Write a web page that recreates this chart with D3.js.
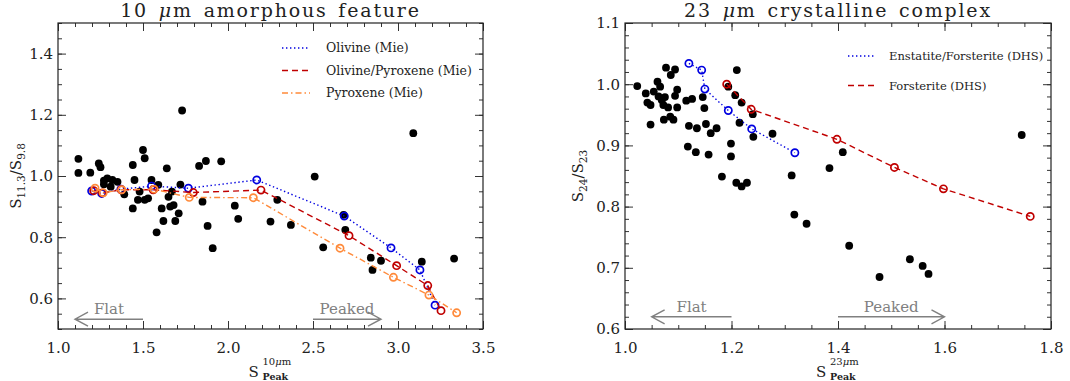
<!DOCTYPE html>
<html>
<head>
  <meta charset="utf-8">
  <title>Silicate feature shapes</title>
  <script src="https://cdn.jsdelivr.net/npm/d3@7"></script>
  <style>
    body { margin: 0; background: #fff; }
    text { font-family: "DejaVu Serif", serif; }
  </style>
</head>
<body>
<svg width="1070" height="381"></svg>
<script>
// ---- data: 10 um amorphous feature (x = S_peak, y = S11.3/S9.8)
const amorphPoints = [
  [1.12,1.056],[1.12,1.010],[1.19,1.011],[1.24,1.041],[1.25,1.029],[1.27,0.985],
  [1.29,0.992],[1.32,0.987],[1.35,0.981],[1.27,0.973],[1.31,0.965],[1.39,0.940],
  [1.44,1.036],[1.45,0.987],[1.44,0.894],[1.47,0.922],[1.48,0.949],[1.50,1.085],
  [1.51,1.058],[1.51,0.922],[1.53,0.927],[1.55,0.987],[1.59,0.971],[1.58,0.816],
  [1.61,0.894],[1.62,0.853],[1.64,1.025],[1.65,0.932],[1.66,0.900],[1.67,0.949],
  [1.68,0.905],[1.71,0.878],[1.69,0.853],[1.73,1.214],[1.72,0.972],[1.83,1.033],
  [1.85,0.916],[1.87,1.049],[1.88,0.837],[1.91,0.764],[1.96,1.048],[2.04,0.903],
  [2.06,0.860],[2.25,0.851],[2.29,0.922],[2.37,0.840],[2.51,0.998],[2.56,0.767],
  [2.68,0.873],[2.69,0.824],[2.84,0.733],[2.85,0.693],[2.90,0.723],[3.09,1.140],
  [3.14,0.720],[3.33,0.730]
];
const olivineMie = [[1.198,0.951],[1.257,0.943],[1.370,0.957],[1.550,0.967],[1.767,0.960],
  [2.169,0.987],[2.684,0.869],[2.959,0.765],[3.129,0.693],[3.218,0.578]];
const olivPyrMie = [[1.210,0.952],[1.262,0.945],[1.372,0.955],[1.560,0.955],[1.796,0.946],
  [2.194,0.954],[2.712,0.805],[2.992,0.707],[3.175,0.642],[3.253,0.560]];
const pyroxeneMie = [[1.218,0.960],[1.266,0.945],[1.375,0.955],[1.565,0.957],[1.772,0.930],
  [2.149,0.929],[2.659,0.764],[2.973,0.669],[3.182,0.611],[3.345,0.553]];

// ---- data: 23 um crystalline complex (x = S_peak, y = S24/S23)
const crystPoints = [
  [1.023,0.997],[1.039,0.985],[1.042,0.970],[1.048,0.966],[1.048,0.934],[1.054,0.988],
  [1.061,1.004],[1.063,0.980],[1.066,0.996],[1.069,0.974],[1.072,0.966],[1.073,0.942],
  [1.075,0.979],[1.077,1.027],[1.081,0.962],[1.085,0.947],[1.086,1.015],[1.091,0.942],
  [1.094,1.024],[1.094,0.981],[1.098,0.991],[1.098,0.962],[1.115,0.973],[1.118,0.898],
  [1.120,0.932],[1.126,0.976],[1.133,0.889],[1.135,0.928],[1.146,0.979],[1.149,0.961],
  [1.152,0.935],[1.157,0.885],[1.161,0.920],[1.172,0.928],[1.182,0.849],[1.194,0.996],
  [1.199,0.903],[1.199,0.882],[1.207,0.982],[1.209,0.839],[1.210,1.023],[1.215,0.937],
  [1.219,0.970],[1.219,0.833],[1.229,0.839],[1.240,0.951],[1.241,0.914],[1.277,0.919],
  [1.313,0.851],[1.318,0.787],[1.341,0.772],[1.384,0.863],[1.409,0.889],[1.421,0.736],
  [1.478,0.685],[1.535,0.714],[1.559,0.703],[1.570,0.690],[1.745,0.917]
];
const enstForstDHS = [[1.120,1.034],[1.144,1.023],[1.150,0.992],[1.194,0.957],[1.238,0.927],[1.319,0.888]];
const forstDHS = [[1.191,1.000],[1.237,0.959],[1.398,0.910],[1.506,0.864],[1.598,0.829],[1.761,0.784]];

// tick values
const amorphXTicks = [1.0, 1.5, 2.0, 2.5, 3.0, 3.5];
const amorphYTicks = [0.6, 0.8, 1.0, 1.2, 1.4];
const crystXTicks = [1.0, 1.2, 1.4, 1.6, 1.8];
const crystYTicks = [0.6, 0.7, 0.8, 0.9, 1.0, 1.1];

const svg = d3.select('svg');

function inward(g) { g.select('.domain').remove(); }

function panel(p) {
  const x = d3.scaleLinear().domain(p.xDom).range([p.left, p.right]);
  const y = d3.scaleLinear().domain(p.yDom).range([p.bottom, p.top]);
  const g = svg.append('g');
  const fmt = d3.format('.1f');
  const xMinor = d3.range(p.xDom[0], p.xDom[1] + 1e-9, p.xMinor);
  const yMinor = d3.range(p.yDom[0], p.yDom[1] + 1e-9, p.yMinor);

  // axes, all ticks pointing inward
  const axes = [
    [d3.axisBottom(x).tickValues(p.xTicks).tickSize(-8).tickPadding(13).tickFormat(fmt), `translate(0,${p.bottom})`],
    [d3.axisBottom(x).tickValues(xMinor).tickSize(-4).tickFormat(''), `translate(0,${p.bottom})`],
    [d3.axisTop(x).tickValues(p.xTicks).tickSize(-8).tickFormat(''), `translate(0,${p.top})`],
    [d3.axisTop(x).tickValues(xMinor).tickSize(-4).tickFormat(''), `translate(0,${p.top})`],
    [d3.axisLeft(y).tickValues(p.yTicks).tickSize(-8).tickPadding(5).tickFormat(fmt), `translate(${p.left},0)`],
    [d3.axisLeft(y).tickValues(yMinor).tickSize(-4).tickFormat(''), `translate(${p.left},0)`],
    [d3.axisRight(y).tickValues(p.yTicks).tickSize(-8).tickFormat(''), `translate(${p.right},0)`],
    [d3.axisRight(y).tickValues(yMinor).tickSize(-4).tickFormat(''), `translate(${p.right},0)`]
  ];
  axes.forEach(([ax, tr]) => {
    const a = g.append('g').attr('transform', tr).call(ax).call(inward);
    a.selectAll('line').attr('stroke', '#333');
    a.selectAll('text').attr('font-size', 15).attr('fill', '#222')
      .style('font-family', '"DejaVu Serif", serif');
  });
  g.append('rect')
    .attr('x', p.left).attr('y', p.top)
    .attr('width', p.right - p.left).attr('height', p.bottom - p.top)
    .attr('fill', 'none').attr('stroke', '#222').attr('stroke-width', 1.2);

  // title
  g.append('text').attr('x', (p.left + p.right) / 2).attr('y', 17)
    .attr('text-anchor', 'middle').attr('font-size', 19).attr('letter-spacing', 1.8)
    .attr('word-spacing', 3).attr('fill', '#222')
    .html(p.title);

  // flat / peaked arrows
  p.arrows.forEach(a => {
    const ya = y(a.y), x0 = x(a.from), x1 = x(a.to);
    const dir = x1 > x0 ? -1 : 1;
    g.append('path')
      .attr('d', `M${x0},${ya}L${x1},${ya}M${x1 + dir * 13},${ya - 7}L${x1},${ya}L${x1 + dir * 13},${ya + 7}`)
      .attr('fill', 'none').attr('stroke', '#808080').attr('stroke-width', 1.4);
    g.append('text').attr('x', (x0 + x1) / 2).attr('y', ya - 5)
      .attr('text-anchor', 'middle').attr('font-size', 15).attr('fill', '#808080')
      .text(a.label);
  });

  // observed sources
  g.append('g').selectAll('circle').data(p.points).join('circle')
    .attr('cx', d => x(d[0])).attr('cy', d => y(d[1])).attr('r', 3.9).attr('fill', '#000');

  // model tracks
  const line = d3.line().x(d => x(d[0])).y(d => y(d[1]));
  p.models.forEach(m => {
    g.append('path').datum(m.data).attr('d', line)
      .attr('fill', 'none').attr('stroke', m.color).attr('stroke-width', 1.4)
      .attr('stroke-dasharray', m.dash);
    g.append('g').selectAll('circle').data(m.data).join('circle')
      .attr('cx', d => x(d[0])).attr('cy', d => y(d[1])).attr('r', 3.6)
      .attr('fill', 'none').attr('stroke', m.color).attr('stroke-width', 1.7);
  });

  // legend
  p.models.forEach((m, i) => {
    const ly = p.legend.y + i * p.legend.dy;
    g.append('line').attr('x1', p.legend.x).attr('x2', p.legend.x + 28)
      .attr('y1', ly).attr('y2', ly)
      .attr('stroke', m.color).attr('stroke-width', 1.6).attr('stroke-dasharray', m.dash);
    g.append('text').attr('x', p.legend.x + p.legend.gap).attr('y', ly).attr('dy', '0.35em')
      .attr('font-size', p.legend.size).attr('fill', '#222').text(m.name);
  });

  // axis titles
  const xt = g.append('g');
  const xc = (p.left + p.right) / 2 - 22;
  xt.append('text').attr('x', xc).attr('y', 377).attr('font-size', 15).attr('fill', '#222').text('S');
  xt.append('text').attr('x', xc + 14).attr('y', 365).attr('font-size', 10).attr('fill', '#222').html(p.xSup);
  xt.append('text').attr('x', xc + 14).attr('y', 380).attr('font-size', 9.5).attr('font-weight', 'bold')
    .attr('fill', '#222').text('Peak');

  const yt = g.append('text')
    .attr('transform', `translate(${p.yLabelX},${(p.top + p.bottom) / 2}) rotate(-90)`)
    .attr('text-anchor', 'middle').attr('font-size', 15).attr('fill', '#222');
  p.yLabel.forEach(s => {
    yt.append('tspan').text(s[0]).attr('font-size', s[1] ? 10.5 : 15).attr('dy', s[1] ? 4 : -4 * (s[2] || 0));
  });
}

const dotted = '1.4 2.6', dashed = '6 4', dashDot = '6 3 1.5 3';

panel({
  left: 58, right: 483, top: 23, bottom: 329,
  xDom: [1.0, 3.5], yDom: [0.5, 1.5], xMinor: 0.1, yMinor: 0.05,
  xTicks: amorphXTicks, yTicks: amorphYTicks,
  title: '10 <tspan font-style="italic">μ</tspan>m amorphous feature',
  points: amorphPoints,
  models: [
    { name: 'Olivine (Mie)', data: olivineMie, color: '#0000e0', dash: dotted },
    { name: 'Olivine/Pyroxene (Mie)', data: olivPyrMie, color: '#c00000', dash: dashed },
    { name: 'Pyroxene (Mie)', data: pyroxeneMie, color: '#ff8a3a', dash: dashDot }
  ],
  legend: { x: 282, y: 48, dy: 22.5, gap: 44, size: 12.5 },
  arrows: [
    { label: 'Flat', from: 1.5, to: 1.1, y: 0.532 },
    { label: 'Peaked', from: 2.5, to: 2.9, y: 0.532 }
  ],
  xSup: '10<tspan font-style="italic">μ</tspan>m',
  yLabelX: 21,
  yLabel: [['S', 0], ['11.3', 1], ['/S', 0, 1], ['9.8', 1]]
});

panel({
  left: 625, right: 1051, top: 23, bottom: 329,
  xDom: [1.0, 1.8], yDom: [0.6, 1.1], xMinor: 0.05, yMinor: 0.02,
  xTicks: crystXTicks, yTicks: crystYTicks,
  title: '23 <tspan font-style="italic">μ</tspan>m crystalline complex',
  points: crystPoints,
  models: [
    { name: 'Enstatite/Forsterite (DHS)', data: enstForstDHS, color: '#0000e0', dash: dotted },
    { name: 'Forsterite (DHS)', data: forstDHS, color: '#c00000', dash: dashed }
  ],
  legend: { x: 848, y: 56, dy: 29.5, gap: 41, size: 11.5 },
  arrows: [
    { label: 'Flat', from: 1.2, to: 1.05, y: 0.620 },
    { label: 'Peaked', from: 1.4, to: 1.6, y: 0.620 }
  ],
  xSup: '23<tspan font-style="italic">μ</tspan>m',
  yLabelX: 583,
  yLabel: [['S', 0], ['24', 1], ['/S', 0, 1], ['23', 1]]
});
</script>
</body>
</html>
